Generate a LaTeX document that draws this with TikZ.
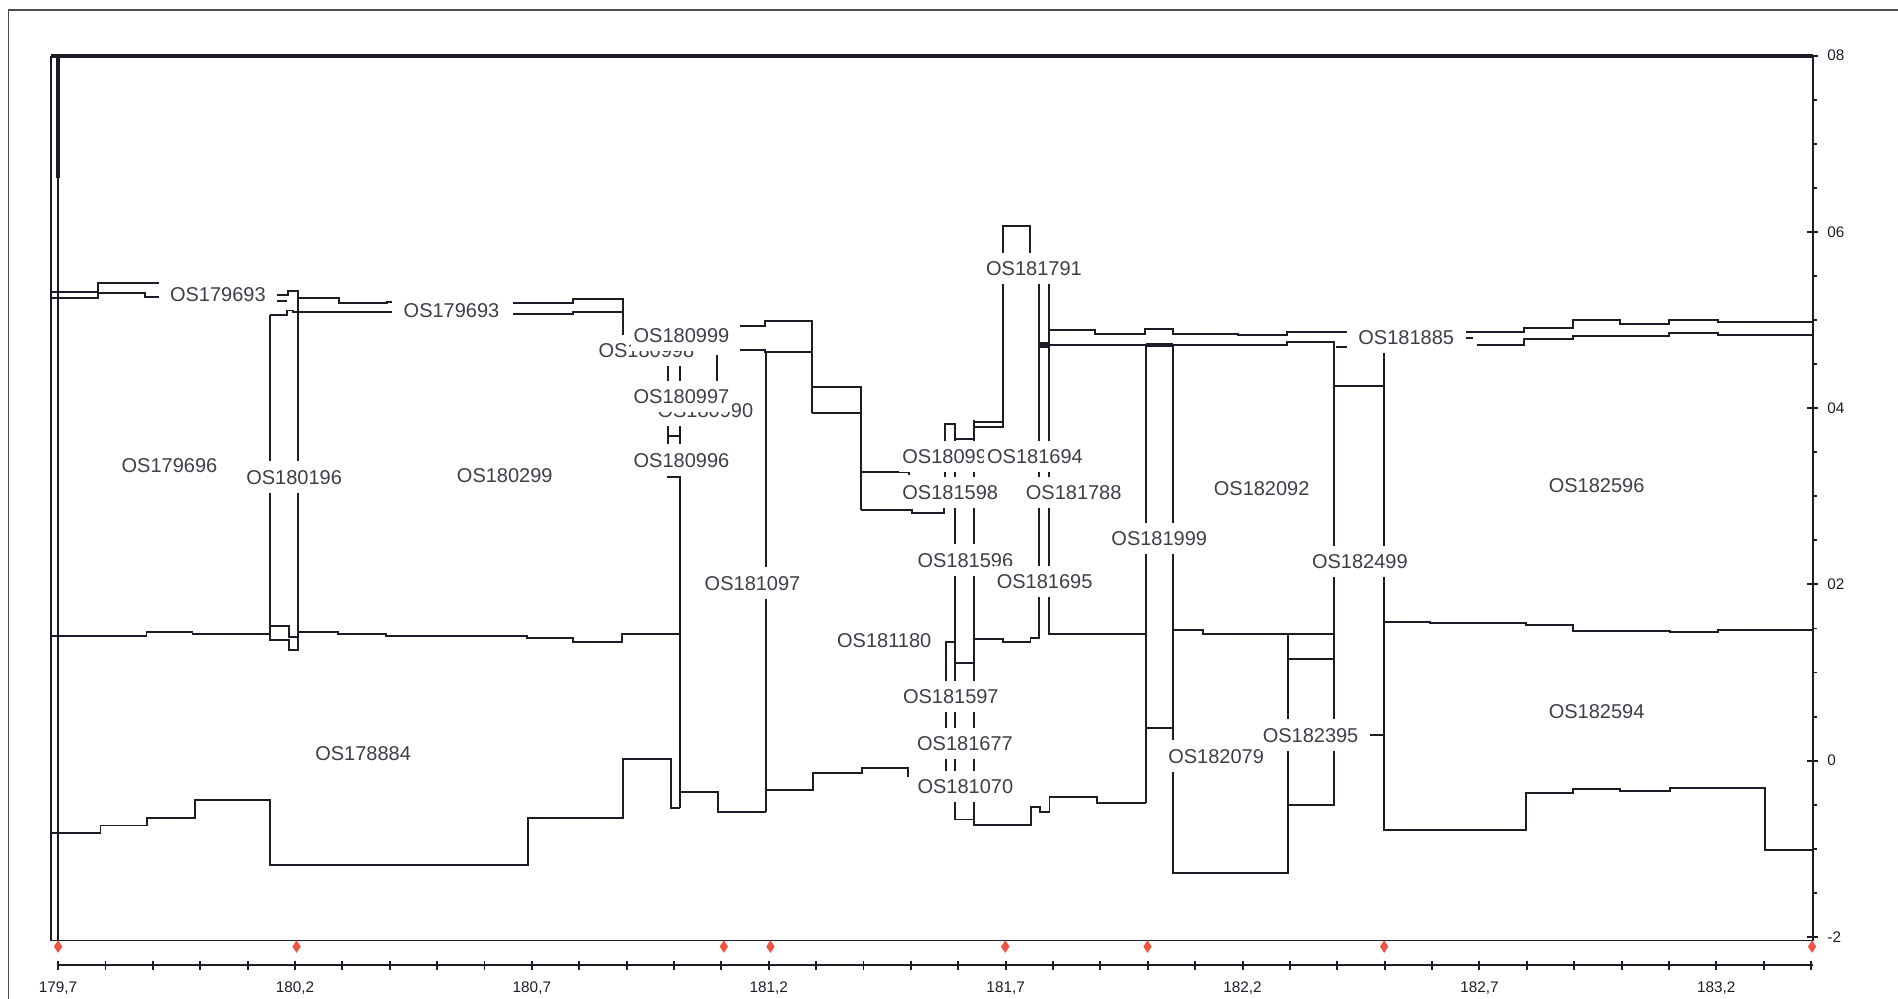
\documentclass[tikz,border=0pt]{standalone}
\usepackage{fontspec}
\newfontfamily\plotfont{Liberation Sans}
\usetikzlibrary{shapes.geometric}
\definecolor{inkline}{RGB}{28,28,40}
\definecolor{markred}{RGB}{240,84,64}
\begin{document}
\begin{tikzpicture}[x=0.1mm,y=-0.1mm,
  trace/.style={draw=inkline,line width=0.45pt},
  heavy/.style={draw=inkline,line width=1pt},
  lbl/.style={fill=white,inner xsep=0.25mm,inner ysep=0.7mm,text height=3.4pt,text depth=0pt,
    font=\plotfont\fontsize{4.7}{5}\selectfont,text=inkline!85},
  axlbl/.style={inner sep=0pt,font=\plotfont\fontsize{3.6}{4}\selectfont,text=inkline},
  locus/.style={diamond,fill=markred,inner sep=0pt,minimum width=0.75mm,minimum height=1.1mm}]
  \useasboundingbox (0,0) rectangle (1568,825);
  \draw[line width=0.4pt,draw=black!70] (7,830) -- (7,8) -- (1570,8);
  % plot box and axes
  \draw[heavy] (42,46) -- (1497.5,46);
  \draw[heavy] (48,46) -- (48,147);
  \draw[trace] (42,46) -- (42,777) -- (1497.5,777) -- (1497.5,46);
  \draw[trace] (48,46) -- (48,777);
  \draw[trace] (48,797.5) -- (1497.5,797.5);
  \foreach \i in {0,...,37}
    \draw[trace] ({48+39.14*\i},794) -- ++(0,7);
  \foreach \lab [count=\k from 0] in {{179,7},{180,2},{180,7},{181,2},{181,7},{182,2},{182,7},{183,2}}
    \node[axlbl] (xl\k) at ({48+195.7*\k},816) {\lab};
  \foreach \j in {0,...,20}
    \draw[trace] (1497.5,{46+36.4*\j}) -- ++(3.5,0);
  \foreach \lab [count=\k from 0] in {08,06,04,02,0,-2} {
    \draw[trace] (1493,{46+145.6*\k}) -- ++(9,0);
    \node[axlbl,anchor=west] (yl\k) at (1509,{46+145.6*\k}) {\lab};
  }
  \foreach \x [count=\k] in {48,245,598,636.5,830.5,948,1143.5,1497}
    \node[locus] (loc\k) at (\x,782) {};
  % left block
  \draw[trace] (42,241) -- (81,241) -- (81,234) -- (131,234);
  \draw[trace] (42,246.5) -- (81,246.5) -- (81,242) -- (120,242) -- (120,245) -- (131,245);
  \draw[trace] (229,243.5) -- (238,243.5) -- (238,240.5) -- (246.4,240.5) -- (246.4,246.5)
    -- (280,246.5) -- (280,250.6) -- (320,250.6) -- (320,249.2) -- (324,249.2);
  \draw[trace] (229,248.5) -- (237,248.5);
  \draw[trace] (222.8,260) -- (237,260) -- (237,256.5) -- (242.4,256.5) -- (242.4,257.6) -- (324,257.6);
  \draw[trace] (424,250) -- (473,250) -- (473,247) -- (515,247) -- (515,277);
  \draw[trace] (424,259.5) -- (473,259.5) -- (473,257.5) -- (515,257.5);
  \draw[trace] (222.8,260) -- (222.8,528.7) -- (239,528.7) -- (239,537) -- (246.4,537) -- (246.4,240.5);
  \draw[trace] (222.8,517.1) -- (239,517.1) -- (239,525.9) -- (246.4,525.9);
  \draw[trace] (42,525.4) -- (121,525.4) -- (121,522.4) -- (159,522.4) -- (159,524) -- (222.8,524);
  \draw[trace] (246.4,522.4) -- (279,522.4) -- (279,524) -- (319,524) -- (319,525.4) -- (435,525.4)
    -- (435,527) -- (473,527) -- (473,530.4) -- (514,530.4) -- (514,524) -- (561.8,524);
  \draw[trace] (42,688) -- (83,688) -- (83,682) -- (121.7,682) -- (121.7,675.5) -- (161,675.5)
    -- (161,661) -- (223,661) -- (223,714.6) -- (436,714.6) -- (436,675.5) -- (515,675.5)
    -- (515,627) -- (554,627) -- (554,667.8) -- (561.8,667.8);
  % middle block
  \draw[trace] (552,285) -- (552,393.7) -- (561.8,393.7);
  \draw[trace] (561.8,285) -- (561.8,667.8);
  \draw[trace] (552,360) -- (561.8,360);
  \draw[trace] (592,293) -- (592,318);
  \draw[trace] (563,654.6) -- (593.5,654.6) -- (593.5,671) -- (632.5,671);
  \draw[trace] (611,269.3) -- (632,269.3) -- (632,264.9) -- (671,264.9) -- (671,341.5);
  \draw[trace] (611,289.1) -- (632,289.1) -- (632,290.5) -- (671,290.5);
  \draw[trace] (632.5,290.5) -- (632.5,671);
  \draw[trace] (632.5,652.6) -- (672,652.6) -- (672,638.6) -- (712,638.6) -- (712,634.6)
    -- (750.3,634.6) -- (750.3,641.6);
  \draw[trace] (671,319.4) -- (711.5,319.4) -- (711.5,421.3);
  \draw[trace] (671,341.5) -- (711.5,341.5);
  \draw[trace] (711.5,389.6) -- (750.8,389.6) -- (750.8,392.4);
  \draw[trace] (711.5,421.3) -- (753.6,421.3) -- (753.6,424) -- (779.9,424) -- (779.9,419.9);
  % central cluster
  \draw[trace] (781,405) -- (781,350.2) -- (789,350.2) -- (789,677) -- (804.5,677);
  \draw[trace] (789,362.9) -- (804.5,362.9);
  \draw[trace] (804.5,347) -- (804.5,681.5) -- (851.6,681.5) -- (851.6,666.4) -- (859.3,666.4)
    -- (859.3,670.5) -- (867,670.5) -- (867,658.8) -- (906,658.8) -- (906,663.2) -- (946.5,663.2);
  \draw[trace] (804.5,348.3) -- (828.3,348.3);
  \draw[trace] (804.5,352.5) -- (828.3,352.5) -- (828.3,186.7) -- (850.9,186.7) -- (850.9,215);
  \draw[trace] (789,530) -- (781.5,530) -- (781.5,645);
  \draw[trace] (789,548) -- (804.5,548);
  \draw[trace] (804.5,528.2) -- (828.3,528.2) -- (828.3,530.6) -- (851.3,530.6) -- (851.3,527.3)
    -- (858.6,527.3) -- (858.6,230);
  \draw[trace] (866.8,230) -- (866.8,524) -- (946.5,524);
  \draw[trace] (858.6,283.5) -- (866.8,283.5);
  \draw[trace] (858.6,286.9) -- (866.8,286.9);
  \draw[trace] (866.8,272.5) -- (904.6,272.5) -- (904.6,275.8) -- (945.9,275.8) -- (945.9,272)
    -- (968.8,272) -- (968.8,275.8) -- (1022.6,275.8) -- (1022.6,277) -- (1063.2,277)
    -- (1063.2,274.5) -- (1113,274.5);
  \draw[trace] (858.6,285.2) -- (1063.2,285.2) -- (1063.2,282.8) -- (1102,282.8) -- (1102,665) -- (1064,665);
  \draw[heavy] (946.5,285.2) -- (968.8,285.2);
  \draw[trace] (946.5,285.2) -- (946.5,663.2);
  \draw[trace] (968.8,285.2) -- (968.8,721) -- (1064,721) -- (1064,523.5);
  \draw[trace] (946.5,601.7) -- (968.8,601.7);
  \draw[trace] (968.8,520.5) -- (993.5,520.5) -- (993.5,523.5) -- (1102,523.5);
  \draw[trace] (1064,544.7) -- (1102,544.7);
  % right block
  \draw[trace] (1104,286.4) -- (1113,286.4);
  \draw[trace] (1102,318.6) -- (1143.5,318.6);
  \draw[trace] (1132,607.2) -- (1143.5,607.2);
  \draw[trace] (1143.5,291.9) -- (1143.5,685.7) -- (1260.6,685.7) -- (1260.6,655.3) -- (1299.3,655.3)
    -- (1299.3,652) -- (1338,652) -- (1338,653.4) -- (1379.6,653.4) -- (1379.6,651.2)
    -- (1457.8,651.2) -- (1457.8,702.4) -- (1497.5,702.4);
  \draw[trace] (1143.5,513.6) -- (1181.3,513.6) -- (1181.3,514.9) -- (1260.6,514.9) -- (1260.6,516.3)
    -- (1299.3,516.3) -- (1299.3,521) -- (1379.6,521) -- (1379.6,522.4) -- (1419.2,522.4)
    -- (1419.2,520.4) -- (1497.5,520.4);
  \draw[trace] (1210.8,274) -- (1258.7,274) -- (1258.7,271.3) -- (1299.3,271.3) -- (1299.3,264.4)
    -- (1338,264.4) -- (1338,267.7) -- (1378.6,267.7) -- (1378.6,264.4) -- (1419.2,264.4)
    -- (1419.2,265.7) -- (1497.5,265.7);
  \draw[trace] (1210.8,279.5) -- (1217,279.5);
  \draw[trace] (1220,285) -- (1258.7,285) -- (1258.7,280.3) -- (1299.3,280.3) -- (1299.3,277.6)
    -- (1378.6,277.6) -- (1378.6,274.8) -- (1419.2,274.8) -- (1419.2,276.7) -- (1497.5,276.7);
  % marker names
  \node[lbl] (m179693) at (180,243.5) {OS179693};
  \node[lbl] (m179693b) at (373,256) {OS179693};
  \node[lbl] (m179696) at (140,384) {OS179696};
  \node[lbl] (m180196) at (243,394) {OS180196};
  \node[lbl] (m180299) at (417,393) {OS180299};
  \node[lbl] (m178884) at (300,622) {OS178884};
  \node[lbl] (m180998) at (534,289.5) {OS180998};
  \node[lbl] (m180999) at (563,277) {OS180999};
  \node[lbl] (m180990) at (582.7,339) {OS180990};
  \node[lbl] (m180997) at (563,327.6) {OS180997};
  \node[lbl] (m180996) at (563,380) {OS180996};
  \node[lbl] (m181097) at (621.7,481.7) {OS181097};
  \node[lbl] (m181180) at (730.5,528.7) {OS181180};
  \node[lbl] (m180995) at (785,377) {OS180995};
  \node[lbl] (m181694) at (855,377) {OS181694};
  \node[lbl] (m181598) at (785,407) {OS181598};
  \node[lbl] (m181788) at (887,407) {OS181788};
  \node[lbl] (m181596) at (797.5,462.6) {OS181596};
  \node[lbl] (m181695) at (863,480.4) {OS181695};
  \node[lbl] (m181597) at (785.5,575.5) {OS181597};
  \node[lbl] (m181677) at (797.2,614) {OS181677};
  \node[lbl] (m181070) at (797.5,649.9) {OS181070};
  \node[lbl] (m181791) at (854.2,221.6) {OS181791};
  \node[lbl] (m181999) at (957.7,444.7) {OS181999};
  \node[lbl] (m182079) at (1004.7,624.5) {OS182079};
  \node[lbl] (m182092) at (1042.3,403) {OS182092};
  \node[lbl] (m181885) at (1161.7,278.7) {OS181885};
  \node[lbl] (m182499) at (1123.4,464) {OS182499};
  \node[lbl] (m182395) at (1082.7,607.2) {OS182395};
  \node[lbl] (m182596) at (1319,400.6) {OS182596};
  \node[lbl] (m182594) at (1319,588) {OS182594};
\end{tikzpicture}
\end{document}
